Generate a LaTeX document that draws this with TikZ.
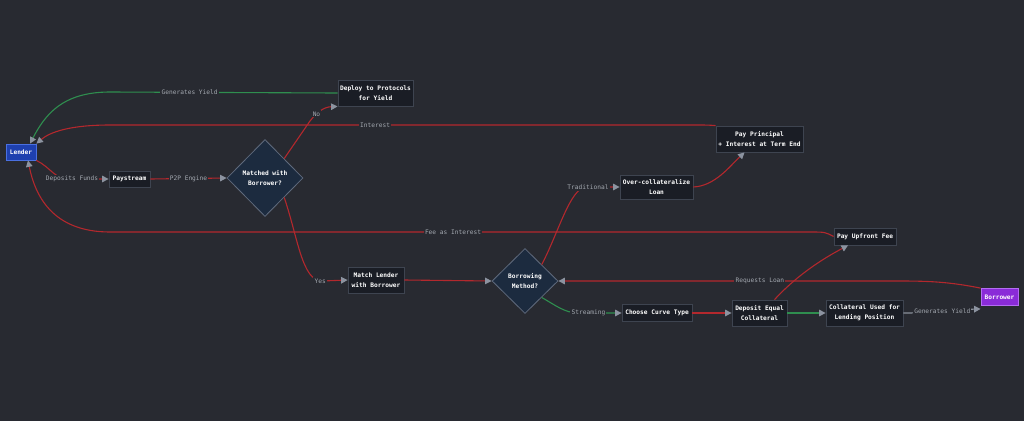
\documentclass[tikz,border=0pt]{standalone}
\usepackage{fontspec}
\setmonofont{DejaVu Sans Mono}
\usetikzlibrary{shapes.geometric,arrows.meta}
\definecolor{bg}{HTML}{282A31}
\definecolor{boxfill}{HTML}{1A1D25}
\definecolor{boxline}{HTML}{3E4450}
\definecolor{diafill}{HTML}{1C2B3F}
\definecolor{dialine}{HTML}{5F6A7C}
\definecolor{redline}{HTML}{B3282D}
\definecolor{greenline}{HTML}{2F8E4F}
\definecolor{grayline}{HTML}{8A909A}
\definecolor{tipgray}{HTML}{8C93A0}
\definecolor{labelgray}{HTML}{A3A8B0}
\definecolor{lenderfill}{HTML}{1E40AF}
\definecolor{lenderline}{HTML}{4A70E0}
\definecolor{borrowfill}{HTML}{8A2BD8}
\definecolor{borrowline}{HTML}{B36CF2}
\tikzset{
  box/.style={rectangle, fill=boxfill, draw=boxline, line width=0.8pt, text=white,
    font=\ttfamily\bfseries\fontsize{6.2}{9.5}\selectfont, align=center, inner sep=0pt},
  dia/.style={diamond, aspect=1, fill=diafill, draw=dialine, line width=0.8pt, text=white,
    font=\ttfamily\bfseries\fontsize{6.2}{9.5}\selectfont, align=center, inner sep=0pt},
  elabel/.style={fill=bg, text=labelgray, inner sep=1.2pt,
    font=\ttfamily\fontsize{6.2}{7.5}\selectfont},
  conn/.style={line width=1.1pt, -{Triangle[length=6.5pt,width=6.5pt,color=tipgray]}},
  rconn/.style={conn, draw=redline},
  gconn/.style={conn, draw=greenline},
  yconn/.style={conn, draw=grayline},
}
\begin{document}
\begin{tikzpicture}[x=1pt,y=-1pt]
\fill[bg] (0,0) rectangle (1024,421);
\useasboundingbox (0,0) rectangle (1024,421);

% nodes
\node[box, fill=lenderfill, draw=lenderline, minimum width=30pt, minimum height=16pt] (lender) at (21,152) {Lender};
\node[box, minimum width=41pt, minimum height=16pt] (pay) at (129.5,179) {Paystream};
\node[dia, minimum width=76pt, minimum height=77pt] (matched) at (265,178) {Matched with\\Borrower?};
\node[box, minimum width=75pt, minimum height=26pt] (deploy) at (375.5,93) {Deploy to Protocols\\for Yield};
\node[box, minimum width=56pt, minimum height=26pt] (ml) at (376,280) {Match Lender\\with Borrower};
\node[dia, minimum width=66pt, minimum height=65pt] (bm) at (525,281) {Borrowing\\Method?};
\node[box, minimum width=73pt, minimum height=24pt] (ocl) at (656.5,187) {Over-collateralize\\Loan};
\node[box, minimum width=87pt, minimum height=26pt] (pp) at (759.5,139) {Pay Principal\\+ Interest at Term End};
\node[box, minimum width=62pt, minimum height=17pt] (puf) at (865,236.5) {Pay Upfront Fee};
\node[box, minimum width=70pt, minimum height=17pt] (cct) at (657,313) {Choose Curve Type};
\node[box, minimum width=55pt, minimum height=26pt] (dep) at (759.5,313) {Deposit Equal\\Collateral};
\node[box, minimum width=77pt, minimum height=26pt] (col) at (864.5,313) {Collateral Used for\\Lending Position};
\node[box, fill=borrowfill, draw=borrowline, minimum width=37pt, minimum height=17pt] (bor) at (999.5,297) {Borrower};

% connectors
\draw[rconn] (lender.south east) .. controls (50,167) and (55,179) .. (68,179) -- node[elabel, pos=0.1] {Deposits Funds} (pay.west);
\draw[rconn] (pay.east) -- node[elabel] {P2P Engine} (matched.west);
\draw[rconn] (matched.north east) -- (310,121) .. controls (317,112) and (324,107) .. node[elabel, pos=0.3] {No} (deploy.south west);
\draw[rconn] (matched.south east) .. controls (298,238) and (302,281) .. node[elabel, pos=0.97] {Yes} (322,281) -- (ml.west);
\draw[rconn] (ml.east) -- (bm.west);
\draw[rconn] (bm.north east) .. controls (558,234) and (570,188) .. (586,187) -- node[elabel, pos=0.06] {Traditional} (ocl.west);
\draw[gconn] (bm.south east) .. controls (555,305) and (565,313) .. (578,313) -- node[elabel, pos=0.24] {Streaming} (cct.west);
\draw[rconn] (ocl.east) .. controls (715,186) and (730,166) .. ([xshift=-15pt]pp.south);
\draw[rconn] (pp.north west) .. controls (708,125) .. (690,125) -- node[elabel, pos=0.543] {Interest} (110,125) .. controls (70,125) and (50,132) .. (lender.north east);
\draw[gconn] (deploy.west) -- node[elabel, pos=0.65] {Generates Yield} (110,92) .. controls (62,92) and (45,115) .. ([xshift=9pt]lender.north);
\draw[rconn] (cct.east) -- (dep.west);
\draw[rconn] ([xshift=15pt]dep.north) .. controls (800,272) and (828,256) .. ([xshift=-17pt]puf.south);
\draw[rconn] (puf.west) .. controls (825,232) .. (810,232) -- node[elabel, pos=0.51] {Fee as Interest} (110,232) .. controls (52,232) and (35,195) .. ([xshift=7pt]lender.south);
\draw[gconn] (dep.east) -- (col.west);
\draw[yconn] (col.east) .. controls (940,313) and (950,310) .. node[elabel, pos=0.47] {Generates Yield} ([yshift=-3pt]bor.south west);
\draw[rconn] (bor.north west) .. controls (950,282) and (930,281) .. (900,281) -- node[elabel, pos=0.41] {Requests Loan} (bm.east);
\end{tikzpicture}
\end{document}
